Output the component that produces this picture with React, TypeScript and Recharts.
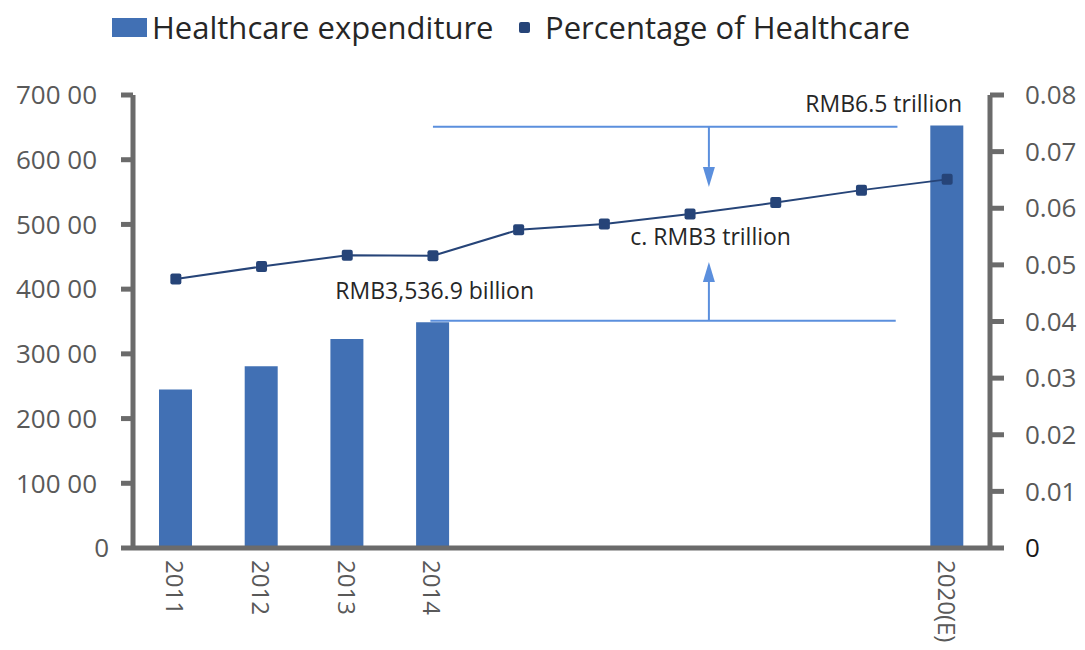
import {
  ComposedChart,
  Bar,
  Line,
  XAxis,
  YAxis,
  ReferenceLine,
  ReferenceDot,
} from "recharts";

const years = ["2011", "2012", "2013", "2014", "2015", "2016", "2017", "2018", "2019", "2020(E)"];
const tickLabels = ["2011", "2012", "2013", "2014", "", "", "", "", "", "2020(E)"];
const slotCenters = [0.5, 1.5, 2.5, 3.5, 4.5, 5.5, 6.5, 7.5, 8.5, 9.5];
const expenditure = [24500, 28100, 32300, 34900, null, null, null, null, null, 65300];
const healthShare = [0.0475, 0.0497, 0.0517, 0.0516, 0.0562, 0.0572, 0.059, 0.061, 0.0632, 0.0651];
const leftTicks = [0, 10000, 20000, 30000, 40000, 50000, 60000, 70000];
const rightTicks = [0, 0.01, 0.02, 0.03, 0.04, 0.05, 0.06, 0.07, 0.08];

const BAR_COLOR = "#4170b4";
const LINE_COLOR = "#264478";
const NOTE_COLOR = "#5b8fdd";
const AXIS_COLOR = "#6b6b6b";
const TICK_TEXT = "#595959";
const FONT = "'Open Sans', 'Noto Sans', sans-serif";

const data = years.map((year, i) => ({
  year,
  pos: slotCenters[i],
  expenditure: expenditure[i],
  share: healthShare[i],
}));

function LeftTick(props: any) {
  const { x, y, payload } = props;
  const v = payload.value as number;
  // the zero label sits a little further right than the others in the original
  return (
    <text x={v === 0 ? x + 12 : x} y={y} dy="0.355em" textAnchor="end" fontSize={26} fill={TICK_TEXT}>
      {v === 0 ? "0" : `${v / 100} 00`}
    </text>
  );
}

function RightTick(props: any) {
  const { x, y, payload } = props;
  const v = payload.value as number;
  return (
    <text x={x} y={y} dy="0.355em" textAnchor="start" fontSize={26} fill={v === 0 ? "#1a1a1a" : TICK_TEXT}>
      {v === 0 ? "0" : v.toFixed(2)}
    </text>
  );
}

function YearTick(props: any) {
  const { x, y, payload } = props;
  const idx = slotCenters.indexOf(payload.value);
  const label = tickLabels[idx];
  if (!label) return null;
  return (
    <g transform={`translate(${x},${y}) rotate(90)`}>
      <text x={0} y={0} textAnchor="start" dominantBaseline="central" fontSize={24} fill={TICK_TEXT}>
        {label}
      </text>
    </g>
  );
}

function SquareDot(props: any) {
  const { cx, cy, index } = props;
  if (cx == null || cy == null) return null;
  return <rect key={index} x={cx - 5.5} y={cy - 5.5} width={11} height={11} rx={2} fill={LINE_COLOR} />;
}

function ArrowShape(props: any) {
  const { x1, y1, x2, y2 } = props;
  const dir = y2 > y1 ? 1 : -1;
  const head = 20;
  const half = 6;
  return (
    <g>
      <line x1={x1} y1={y1} x2={x2} y2={y2 - dir * head} stroke={NOTE_COLOR} strokeWidth={2} />
      <polygon
        points={`${x2},${y2} ${x2 - half},${y2 - dir * head} ${x2 + half},${y2 - dir * head}`}
        fill={NOTE_COLOR}
      />
    </g>
  );
}

function Legend() {
  const text = { position: "absolute" as const, top: 7, fontSize: 31, lineHeight: "40px", color: "#262626", whiteSpace: "nowrap" as const };
  return (
    <div style={{ position: "absolute", left: 0, top: 0, width: 1085, height: 60 }}>
      <span style={{ position: "absolute", left: 112, top: 18, width: 35, height: 19, background: BAR_COLOR }} />
      <span style={{ ...text, left: 152 }}>Healthcare expenditure</span>
      <span style={{ position: "absolute", left: 519, top: 22, width: 11, height: 11, borderRadius: 2, background: LINE_COLOR }} />
      <span style={{ ...text, left: 545 }}>Percentage of Healthcare</span>
    </div>
  );
}

const noteLabel = (value: string) => ({
  value,
  position: "center" as const,
  fill: "#262626",
  fontSize: 23,
});

export default function App() {
  return (
    <div
      style={{
        position: "absolute",
        left: 0,
        top: 0,
        width: 1085,
        height: 650,
        background: "#fff",
        fontFamily: FONT,
      }}
    >
      <Legend />
      <ComposedChart width={1085} height={650} data={data} margin={{ top: 95, right: 0, bottom: 0, left: 0 }}>
        <XAxis
          dataKey="pos"
          type="number"
          domain={[0, 10]}
          allowDataOverflow
          ticks={slotCenters}
          interval={0}
          height={102}
          tickLine={false}
          tickSize={0}
          tickMargin={12}
          axisLine={{ stroke: AXIS_COLOR, strokeWidth: 5 }}
          tick={<YearTick />}
        />
        <YAxis
          yAxisId="amt"
          width={133}
          domain={[0, 70000]}
          ticks={leftTicks}
          interval={0}
          tickSize={12}
          tickMargin={24}
          axisLine={{ stroke: AXIS_COLOR, strokeWidth: 5 }}
          tickLine={{ stroke: AXIS_COLOR, strokeWidth: 5 }}
          tick={<LeftTick />}
        />
        <YAxis
          yAxisId="pct"
          orientation="right"
          width={95}
          domain={[0, 0.08]}
          ticks={rightTicks}
          interval={0}
          tickSize={14}
          tickMargin={21}
          axisLine={{ stroke: AXIS_COLOR, strokeWidth: 5 }}
          tickLine={{ stroke: AXIS_COLOR, strokeWidth: 5 }}
          tick={<RightTick />}
        />
        <Bar yAxisId="amt" dataKey="expenditure" fill={BAR_COLOR} barSize={33} isAnimationActive={false} />
        <ReferenceLine
          yAxisId="amt"
          segment={[{ x: 3.5, y: 65100 }, { x: 8.92, y: 65100 }]}
          stroke={NOTE_COLOR}
          strokeWidth={2}
        />
        <ReferenceLine
          yAxisId="amt"
          segment={[{ x: 3.47, y: 35100 }, { x: 8.9, y: 35100 }]}
          stroke={NOTE_COLOR}
          strokeWidth={2}
        />
        <ReferenceLine
          yAxisId="amt"
          segment={[{ x: 6.72, y: 65100 }, { x: 6.72, y: 55800 }]}
          shape={<ArrowShape />}
        />
        <ReferenceLine
          yAxisId="amt"
          segment={[{ x: 6.72, y: 35100 }, { x: 6.72, y: 44200 }]}
          shape={<ArrowShape />}
        />
        <Line
          yAxisId="pct"
          dataKey="share"
          stroke={LINE_COLOR}
          strokeWidth={2}
          dot={<SquareDot />}
          activeDot={false}
          isAnimationActive={false}
        />
        <ReferenceDot yAxisId="amt" x={8.76} y={68600} r={1} fill="none" stroke="none" label={noteLabel("RMB6.5 trillion")} />
        <ReferenceDot yAxisId="amt" x={6.74} y={48100} r={1} fill="none" stroke="none" label={noteLabel("c. RMB3 trillion")} />
        <ReferenceDot yAxisId="amt" x={3.52} y={39800} r={1} fill="none" stroke="none" label={noteLabel("RMB3,536.9 billion")} />
      </ComposedChart>
    </div>
  );
}
